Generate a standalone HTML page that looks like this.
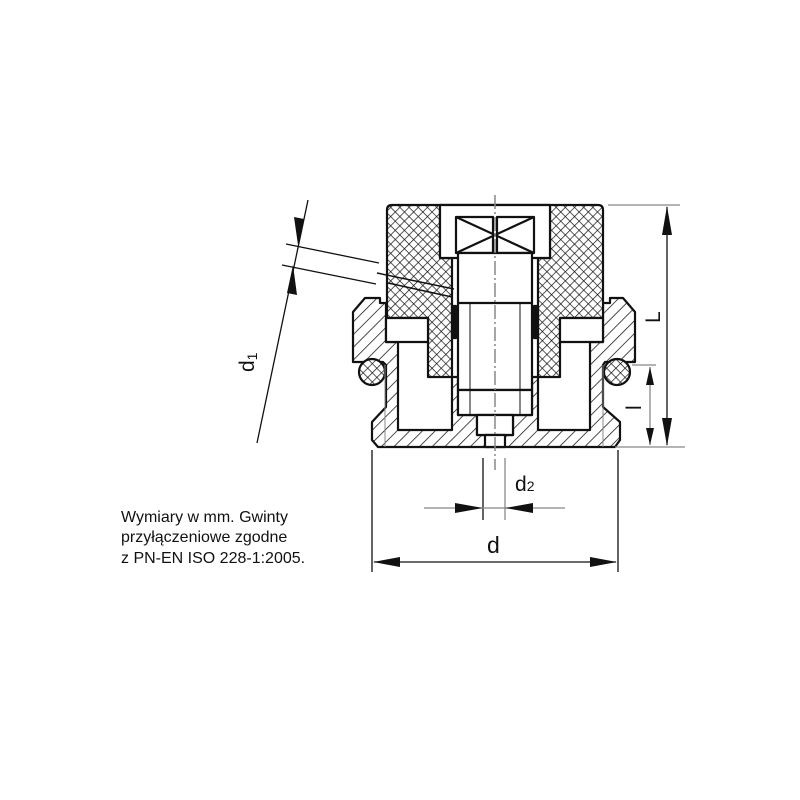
<!DOCTYPE html>
<html><head><meta charset="utf-8"><style>
body{margin:0;background:#fff}
svg{display:block}
</style></head><body>
<svg width="800" height="800" viewBox="0 0 800 800" xmlns="http://www.w3.org/2000/svg">
<defs>
<pattern id="x" width="6.5" height="6.5" patternUnits="userSpaceOnUse" patternTransform="rotate(45)">
<rect width="6.5" height="6.5" fill="#fff"/>
<line x1="0" y1="0" x2="0" y2="6.5" stroke="#111" stroke-width="1.4"/>
<line x1="0" y1="0" x2="6.5" y2="0" stroke="#111" stroke-width="1.4"/>
</pattern>
<pattern id="h" width="9" height="9" patternUnits="userSpaceOnUse" patternTransform="rotate(-45)">
<rect width="9" height="9" fill="#fff"/>
<line x1="0" y1="0" x2="9" y2="0" stroke="#111" stroke-width="1.5"/>
</pattern>
</defs>
<g stroke="#111" stroke-width="2.2" stroke-linejoin="round">
<path fill="url(#h)" d="M365,298 L380,298 L380,303 L386,303 L386,318 L386,342 L398,342 L398,430 L452,430 L452,377 L458,377 L458,415 L477,415 L477,435 L513,435 L513,415 L532,415 L532,377 L538,377 L538,430 L590,430 L590,342 L603,342 L603,303 L610,303 L610,298 L623,298 L635,312 L635,362 L605,362 L603,365 L603,407 L620,422 L620,440 L615,447 L378,447 L372,440 L372,422 L386,407 L386,365 L383,362 L353,362 L353,312 Z"/>
<path fill="url(#x)" d="M392,205 L598,205 Q603,205 603,210 L603,318 L560,318 L560,377 L538,377 L538,258 L550,258 L550,205 L440,205 L440,258 L452,258 L452,377 L428,377 L428,318 L387,318 L387,210 Q387,205 392,205 Z"/>
<rect x="386" y="318" width="42" height="24" fill="#fff"/>
<rect x="560" y="318" width="43" height="24" fill="#fff"/>
<rect x="440" y="205" width="110" height="53" fill="#fff"/>
<rect x="456" y="217" width="37" height="36" fill="#fff"/>
<rect x="497" y="217" width="37" height="36" fill="#fff"/>
<path d="M456,217 L534,253 M534,217 L456,253" fill="none"/>
<rect x="458" y="253" width="74" height="137" fill="#fff"/>
<line x1="458" y1="303" x2="532" y2="303"/>
<rect x="458" y="390" width="74" height="25" fill="#fff"/>
<rect x="477" y="415" width="36" height="20" fill="#fff"/>
<rect x="485" y="435" width="20" height="12" fill="#fff"/>
<line x1="470" y1="390" x2="470" y2="415" stroke-width="1"/>
<line x1="520" y1="390" x2="520" y2="415" stroke-width="1"/>
<line x1="470" y1="303" x2="470" y2="390" stroke-width="1"/>
<line x1="520" y1="303" x2="520" y2="390" stroke-width="1"/>
<rect x="452" y="306" width="4" height="32" fill="#111"/>
<rect x="534" y="306" width="4" height="32" fill="#111"/>
<path d="M377,273 L454,289 M388,283 L452,297" fill="none" stroke-width="1.5"/>
<circle cx="372" cy="372" r="13" fill="url(#x)"/>
<circle cx="617" cy="372" r="13" fill="url(#x)"/>
</g>
<line x1="495" y1="195" x2="495" y2="470" stroke="#888" stroke-width="1.5" stroke-dasharray="14,3,2,3"/>
<line x1="385" y1="365" x2="385" y2="447" stroke="#888" stroke-width="1"/>
<line x1="603" y1="365" x2="603" y2="447" stroke="#888" stroke-width="1"/>
<g stroke="#111" stroke-width="1.3" fill="none">
<line x1="608" y1="205" x2="680" y2="205" stroke="#888"/>
<line x1="615" y1="447" x2="685" y2="447" stroke="#888"/>
<line x1="632" y1="365" x2="656" y2="365" stroke="#888"/>
<line x1="667" y1="207" x2="667" y2="445"/>
<line x1="650" y1="367" x2="650" y2="445" stroke="#888"/>
<line x1="372" y1="450" x2="372" y2="572"/>
<line x1="618" y1="450" x2="618" y2="572"/>
<line x1="374" y1="562" x2="616" y2="562"/>
<line x1="483" y1="458" x2="483" y2="520"/>
<line x1="505" y1="458" x2="505" y2="520" stroke="#888"/>
<line x1="424" y1="508" x2="565" y2="508" stroke="#888"/>
<line x1="308" y1="200" x2="257" y2="443"/>
<line x1="286" y1="244" x2="379" y2="263"/>
<line x1="282" y1="265" x2="376" y2="284"/>
</g>
<g fill="#111">
<polygon points="667,206 662,235 672,235"/>
<polygon points="667,446 662,418 672,418"/>
<polygon points="650,367 646,385 654,385"/>
<polygon points="650,445 646,428 654,428"/>
<polygon points="373,562 400,557 400,567"/>
<polygon points="617,562 590,557 590,567"/>
<polygon points="483,508 455,503 455,513"/>
<polygon points="505,508 533,503 533,513"/>
<polygon points="298,245 294,217 304,219"/>
<polygon points="293,265 287,293 297,295"/>
</g>
<g font-family="'Liberation Sans',sans-serif" fill="#111">
<text x="487" y="553" font-size="23">d</text>
<text x="515" y="491" font-size="21">d<tspan font-size="14">2</tspan></text>
<text transform="translate(254,372) rotate(-90)" font-size="21">d<tspan font-size="14" dy="3">1</tspan></text>
<text transform="translate(660,323) rotate(-90)" font-size="21">L</text>
<text transform="translate(641,410) rotate(-90)" font-size="21">l</text>
<g font-size="16">
<text x="121" y="522">Wymiary w mm. Gwinty</text>
<text x="121" y="542">przyłączeniowe zgodne</text>
<text x="121" y="563">z PN-EN ISO 228-1:2005.</text>
</g>
</g>
</svg>
</body></html>
